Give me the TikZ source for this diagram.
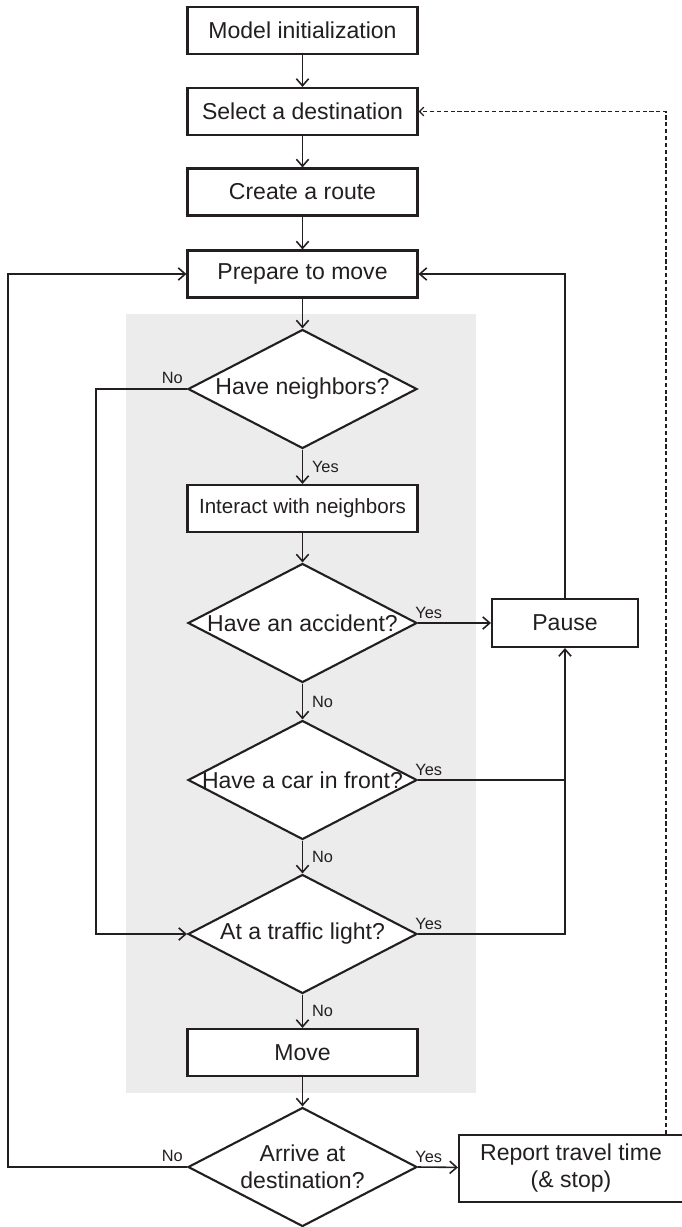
\documentclass[tikz,border=0pt]{standalone}
\usepackage{fontspec}
\setmainfont{Liberation Sans}
\usetikzlibrary{shapes.geometric,arrows.meta}

\definecolor{ink}{RGB}{35,31,32}
\definecolor{loopshade}{RGB}{235,236,235}

\tikzset{
    stepbox/.style={draw=ink, line width=1.2pt, fill=white, text=ink,
        minimum width=4.6cm, minimum height=0.94cm, inner sep=2pt,
        font=\fontsize{13.1}{15.4}\selectfont},
    decision/.style={diamond, draw=ink, line width=1.2pt, fill=white, text=ink,
        aspect=1.92, minimum width=4.58cm, minimum height=2.38cm, inner sep=0pt,
        font=\fontsize{13.1}{15.4}\selectfont},
    answer/.style={text=ink, inner sep=1pt, font=\fontsize{9.3}{11}\selectfont},
    link/.style={draw=ink, line width=0.9pt},
    flow/.style={link, -{Straight Barb[length=4pt,width=7pt]}},
    feedback/.style={draw=ink, line width=0.7pt, dash pattern=on 2.4pt off 1.5pt,
        -{Straight Barb[length=2.5pt,width=5pt]}},
}
\newcommand{\fit}[1]{\makebox[0pt]{#1}}

\begin{document}
\begin{tikzpicture}
    \useasboundingbox (0,0) rectangle (13.62,-24.54);
    \fill[loopshade] (2.52,-6.28) rectangle (9.52,-21.86);

    \node[stepbox] (init) at (6.05,-0.61) {Model initialization};
    \node[stepbox] (select) at (6.05,-2.23) {Select a destination};
    \node[stepbox] (route) at (6.05,-3.84) {Create a route};
    \node[stepbox] (prepare) at (6.05,-5.48) {Prepare to move};
    \node[decision] (neighbors) at (6.05,-7.78) {\fit{Have neighbors?}};
    \node[stepbox, font=\fontsize{11.7}{14}\selectfont] (interact) at (6.05,-10.17) {Interact with neighbors};
    \node[decision] (accident) at (6.05,-12.46) {\fit{Have an accident?}};
    \node[decision] (carfront) at (6.05,-15.60) {\fit{Have a car in front?}};
    \node[decision] (light) at (6.05,-18.68) {\fit{At a traffic light?}};
    \node[stepbox] (move) at (6.05,-21.05) {Move};
    \node[decision, align=center] (arrive) at (6.05,-23.34) {Arrive at\\destination?};

    \node[stepbox, minimum width=2.92cm, minimum height=0.96cm] (pause) at (11.30,-12.46) {Pause};
    \node[stepbox, minimum width=4.48cm, minimum height=1.34cm, align=center] (report) at (11.42,-23.37) {Report travel time\\(\& stop)};

    % rails for the loops round the flow
    \coordinate (leftrail) at (0.16,0);
    \coordinate (innerrail) at (1.92,0);
    \coordinate (backrail) at (13.32,0);

    \draw[flow] (init) -- (select);
    \draw[flow] (select) -- (route);
    \draw[flow] (route) -- (prepare);
    \draw[flow] (prepare) -- (neighbors);
    \draw[flow] (neighbors) -- node[answer, right=4pt] {Yes} (interact);
    \draw[flow] (interact) -- (accident);
    \draw[flow] (accident) -- node[answer, right=4pt] {No} (carfront);
    \draw[flow] (carfront) -- node[answer, right=4pt] {No} (light);
    \draw[flow] (light) -- node[answer, right=4pt] {No} (move);
    \draw[flow] (move) -- (arrive);

    \draw[flow] (accident.east) -- node[answer, pos=0, anchor=south west, xshift=-3pt, yshift=1pt] {Yes} (pause);
    \draw[link] (carfront.east) -- node[answer, pos=0, anchor=south west, xshift=-3pt, yshift=1pt] {Yes} (carfront.east -| pause.south);
    \draw[flow] (light.east) -- node[answer, pos=0, anchor=south west, xshift=-3pt, yshift=1pt] {Yes} (light.east -| pause.south) -- (pause.south);
    \draw[flow] (pause.north) |- (prepare.east);

    \draw[flow] (neighbors.west) -- node[answer, pos=0, anchor=south east, xshift=-1pt, yshift=1.5pt] {No} (neighbors.west -| innerrail) |- (light.west);
    \draw[flow] (arrive.west) -- node[answer, pos=0, anchor=south east, xshift=-1pt, yshift=1.5pt] {No} (arrive.west -| leftrail) |- (prepare.west);
    \draw[flow] (arrive.east) -- node[answer, pos=0, anchor=south west, xshift=-3pt, yshift=1pt] {Yes} (report);
    \draw[feedback] (report.north -| backrail) |- (select.east);
\end{tikzpicture}
\end{document}
